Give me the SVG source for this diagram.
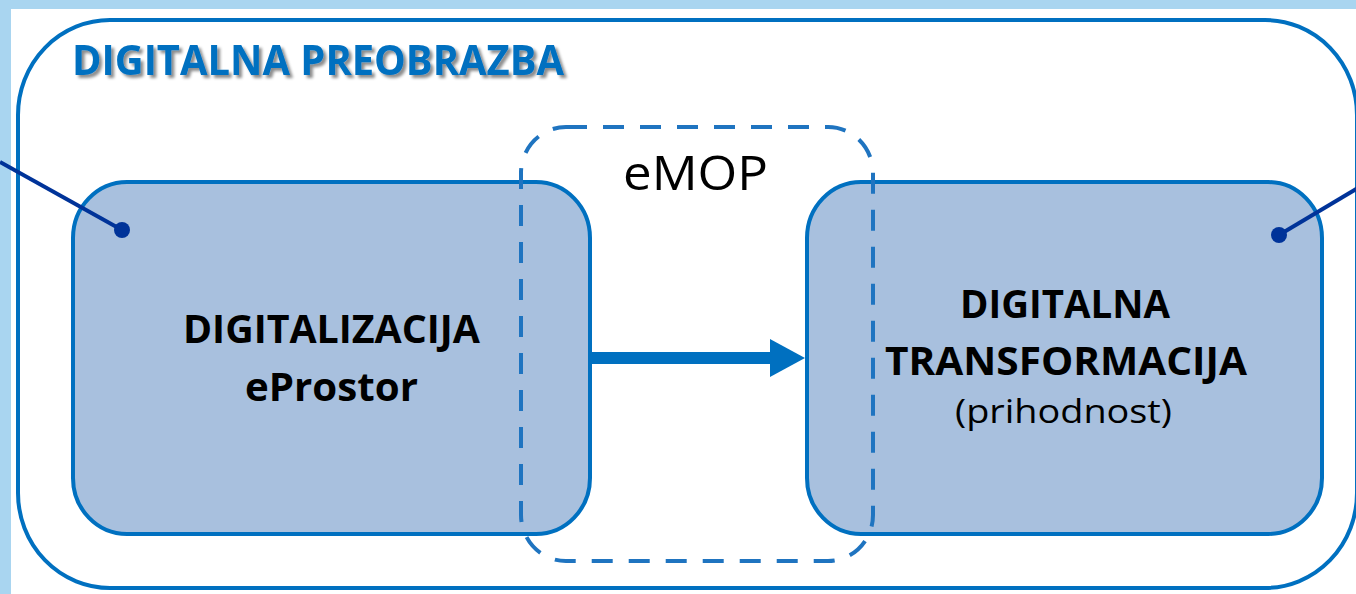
<svg xmlns="http://www.w3.org/2000/svg" width="1356" height="594" viewBox="0 0 1356 594">
  <defs>
    <style>
      .box { fill: #A8C0DE; stroke: #0070C0; stroke-width: 4; }
      .lbl { font-family: "Open Sans", "Liberation Sans", sans-serif; fill: #000000; text-anchor: middle; }
      .b { font-weight: bold; }
      .pin { stroke: #003399; stroke-width: 4; fill: none; }
      .dot { fill: #003399; }
    </style>
    <filter id="shadow" x="-5%" y="-20%" width="110%" height="150%">
      <feGaussianBlur in="SourceAlpha" stdDeviation="1.5" result="b"/>
      <feOffset dx="3" dy="3" result="o"/>
      <feFlood flood-color="#000000" flood-opacity="0.45"/>
      <feComposite in2="o" operator="in" result="s"/>
      <feMerge><feMergeNode in="s"/><feMergeNode in="SourceGraphic"/></feMerge>
    </filter>
    <marker id="arrowHead" markerUnits="userSpaceOnUse" markerWidth="36" markerHeight="38" refX="1" refY="19" orient="auto">
      <path d="M0,0 L35,19 L0,38 Z" fill="#0070C0"/>
    </marker>
  </defs>

  <!-- background frame -->
  <rect x="0" y="0" width="1356" height="594" fill="#A9D5F0"/>
  <rect x="11" y="9" width="1345" height="585" fill="#FFFFFF"/>

  <g id="outer">
    <rect x="18" y="20" width="1339" height="568" rx="92" ry="95" fill="none" stroke="#0070C0" stroke-width="4"/>
    <text x="72" y="75" font-family="Open Sans, Liberation Sans, sans-serif" font-weight="bold" font-size="42" fill="#0070C0" textLength="492" lengthAdjust="spacingAndGlyphs" filter="url(#shadow)">DIGITALNA PREOBRAZBA</text>
  </g>

  <g id="digitalizacija">
    <rect class="box" x="73" y="182" width="517" height="352" rx="54" ry="56"/>
    <text class="lbl b" x="331.5" y="343" font-size="39" textLength="297" lengthAdjust="spacingAndGlyphs">DIGITALIZACIJA</text>
    <text class="lbl b" x="331.5" y="401" font-size="39" textLength="173" lengthAdjust="spacingAndGlyphs">eProstor</text>
  </g>

  <g id="transformacija">
    <rect class="box" x="807" y="182" width="515" height="352" rx="54" ry="56"/>
    <text class="lbl b" x="1065" y="318" font-size="39" textLength="210" lengthAdjust="spacingAndGlyphs">DIGITALNA</text>
    <text class="lbl b" x="1066" y="375" font-size="39" textLength="362" lengthAdjust="spacingAndGlyphs">TRANSFORMACIJA</text>
    <text class="lbl" x="1063.5" y="423" font-size="33" textLength="217" lengthAdjust="spacingAndGlyphs">(prihodnost)</text>
  </g>

  <g id="emop">
    <rect x="521" y="127" width="352" height="434" rx="45" ry="46" fill="none" stroke="#1F74C0" stroke-width="4" stroke-dasharray="21 16"/>
    <text class="lbl" x="695.5" y="190" font-size="47" textLength="145" lengthAdjust="spacingAndGlyphs">eMOP</text>
  </g>

  <g id="connectors">
    <line x1="590" y1="358" x2="771" y2="358" stroke="#0070C0" stroke-width="12" marker-end="url(#arrowHead)"/>
    <line class="pin" x1="0" y1="162" x2="122" y2="230"/>
    <circle class="dot" cx="122" cy="230" r="8"/>
    <line class="pin" x1="1358" y1="188" x2="1279" y2="235"/>
    <circle class="dot" cx="1279" cy="235" r="8"/>
  </g>
</svg>
